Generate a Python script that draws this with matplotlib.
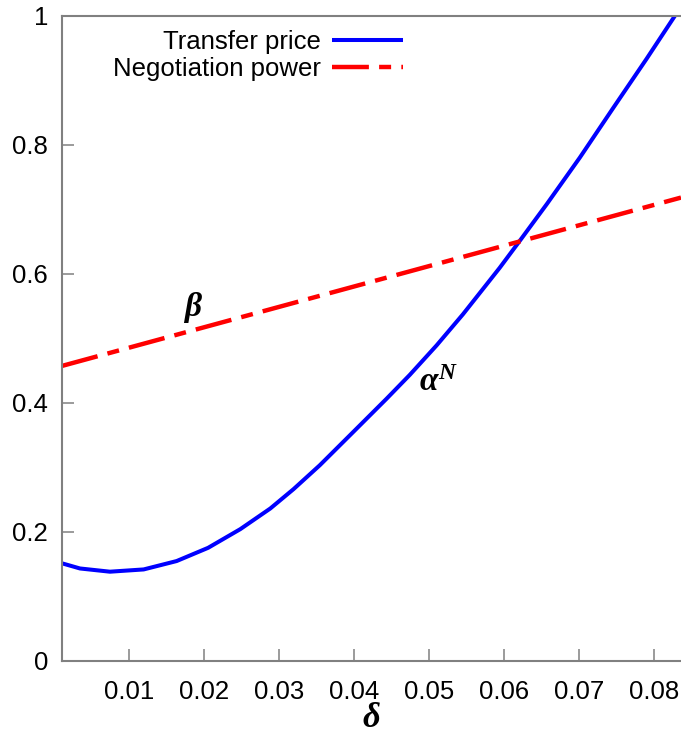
import matplotlib
matplotlib.use("Agg")
import matplotlib.pyplot as plt

plt.rcParams['font.family'] = ['Liberation Sans', 'DejaVu Sans']
plt.rcParams['mathtext.fontset'] = 'custom'
plt.rcParams['mathtext.it'] = 'Liberation Serif:italic:bold'
plt.rcParams['mathtext.rm'] = 'Liberation Serif:bold'
plt.rcParams['mathtext.bf'] = 'Liberation Serif:italic:bold'

# data
delta_tp = [0.001, 0.0034, 0.0074, 0.0119, 0.0163, 0.0205, 0.0248, 0.0288, 0.0319,
            0.0354, 0.0399, 0.0443, 0.0474, 0.051, 0.0545, 0.0577, 0.0594, 0.0619,
            0.0657, 0.0701, 0.0745, 0.079, 0.0828]
transfer_price = [0.151, 0.143, 0.138, 0.1415, 0.1545, 0.175, 0.204, 0.236, 0.266,
                  0.303, 0.355, 0.406, 0.443, 0.489, 0.537, 0.584, 0.609, 0.648,
                  0.708, 0.780, 0.856, 0.933, 1.0]
delta_np = [0.001, 0.0836]
negotiation_power = [0.457, 0.718]

xticks = [0.01, 0.02, 0.03, 0.04, 0.05, 0.06, 0.07, 0.08]
xticklabels = ['0.01', '0.02', '0.03', '0.04', '0.05', '0.06', '0.07', '0.08']
yticks = [0, 0.2, 0.4, 0.6, 0.8, 1]
yticklabels = ['0', '0.2', '0.4', '0.6', '0.8', '1']

fig = plt.figure(figsize=(6.81, 7.36), dpi=100)
ax = fig.add_axes([0.091, 0.1023, 0.909, 0.8764])

ax.plot(delta_tp, transfer_price, color='#0000ff', lw=2.9, label='Transfer price',
        solid_capstyle='butt', solid_joinstyle='round')
ax.plot(delta_np, negotiation_power, color='#ff0000', lw=3.2,
        linestyle=(0, (8.3, 2.3, 2.7, 2.3)), label='Negotiation power')

ax.set_xlim(0.001, 0.0836)
ax.set_ylim(0, 1)
ax.set_xticks(xticks)
ax.set_xticklabels(xticklabels)
ax.set_yticks(yticks)
ax.set_yticklabels(yticklabels)

for s in ['left', 'bottom', 'top']:
    ax.spines[s].set_color('#808080')
    ax.spines[s].set_linewidth(1.5)
ax.spines['right'].set_visible(False)

ax.tick_params(axis='both', direction='in', length=8.5, width=1.1, color='#808080',
               labelsize=18.5, labelcolor='black')
ax.tick_params(axis='x', pad=14)
ax.tick_params(axis='y', pad=10)

ax.set_xlabel(r'$\delta$', fontsize=25, labelpad=-2)

ax.text(0.0185, 0.547, r'$\beta$', fontsize=24, ha='center', va='center')
ax.text(0.0513, 0.432, r'$\alpha^N$', fontsize=24, ha='center', va='center')

leg = ax.legend(loc='upper right', bbox_to_anchor=(0.551, 0.978), frameon=False,
                markerfirst=False, fontsize=18.5, handlelength=2.75, handletextpad=0.45,
                borderpad=0, borderaxespad=0, labelspacing=0.12)
for t in leg.get_texts():
    t.set_ha('right')

fig.savefig('out.png', dpi=100)
